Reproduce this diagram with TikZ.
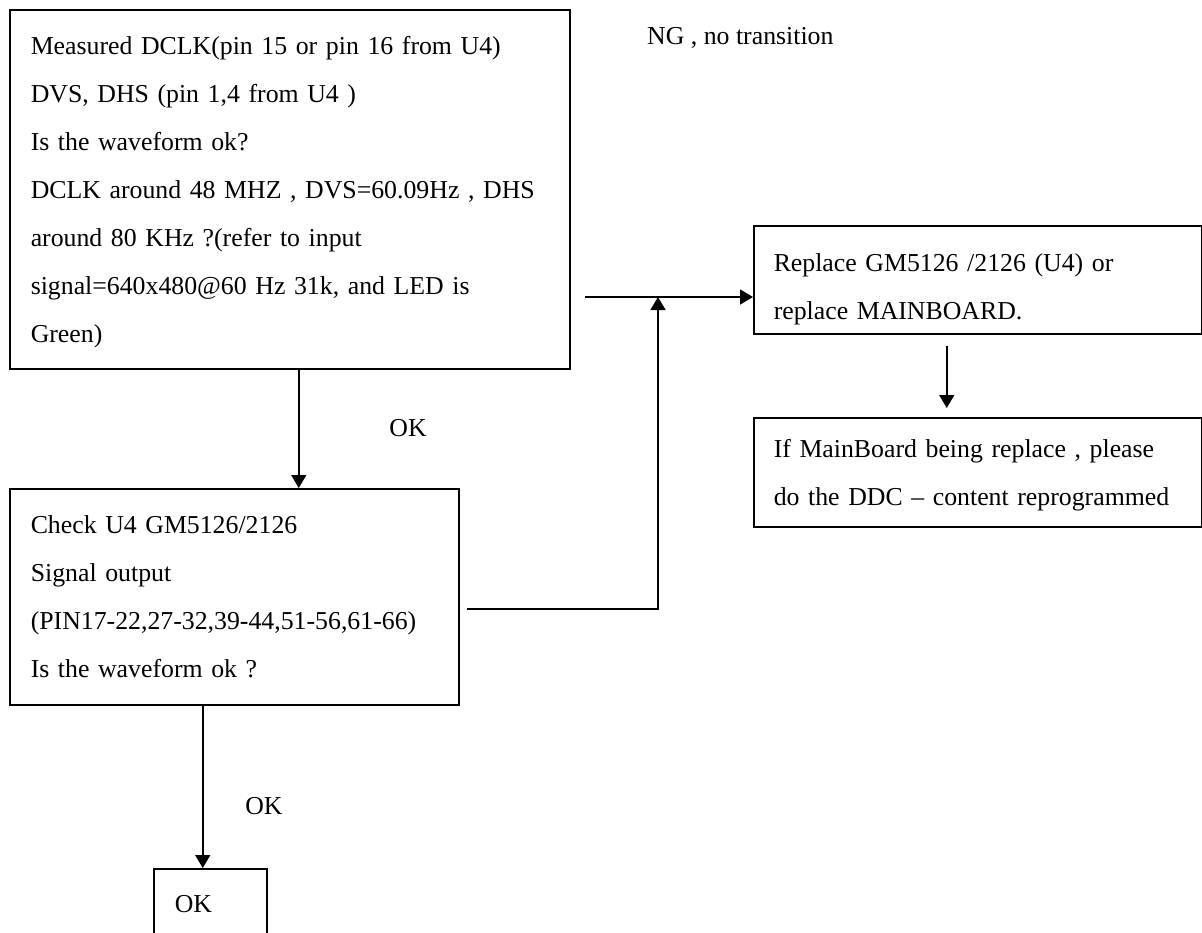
\documentclass[tikz,border=0pt]{standalone}
\usepackage{fontspec}
\setmainfont{Liberation Serif}
\usepackage{xcolor}
\usepackage{tikz}
\usetikzlibrary{arrows.meta, calc}
\definecolor{ink}{HTML}{000000}

\tikzset{
  stepbox/.style={draw=ink, line width=1.5pt, rectangle, anchor=north west, align=left,
                  inner xsep=21pt, inner ysep=0pt, font=\fontsize{25.8}{48}\selectfont},
  flow/.style={draw=ink, line width=1.5pt, -{Triangle[length=13pt, width=15pt]}},
  lbl/.style={inner sep=0pt, font=\fontsize{25.8}{32}\selectfont}
}

\begin{document}
\begin{tikzpicture}[x=1pt, y=-1pt]
  \useasboundingbox (0,0) rectangle (1202,932);
  % boxes of the check flow
  \node[stepbox, text width=518pt, minimum height=359pt] (meas) at (9,9)
    {\rule{0pt}{24pt}Measured DCLK(pin 15 or pin 16 from U4)\\
     DVS, DHS (pin 1,4 from U4 )\\
     Is the waveform ok?\\
     DCLK around 48 MHZ , DVS=60.09Hz , DHS\\
     around 80 KHz ?(refer to input\\
     signal=640x480@60 Hz 31k, and LED is\\
     Green)};
  \node[stepbox, text width=407pt, minimum height=216pt] (chk) at (9,488)
    {Check U4 GM5126/2126\\
     Signal output\\
     (PIN17-22,27-32,39-44,51-56,61-66)\\
     Is the waveform ok ?};
  \node[stepbox, inner xsep=20pt, text width=408pt, minimum height=108pt] (rep) at (753,225)
    {\rule{0pt}{36pt}Replace GM5126 /2126 (U4) or\\
     replace MAINBOARD.};
  \node[stepbox, inner xsep=20pt, text width=408pt, minimum height=109pt] (rst) at (753,417)
    {\rule{0pt}{24pt}If MainBoard being replace , please\\
     do the DDC -- content reprogrammed};
  \node[stepbox, text width=71pt, minimum height=70pt] (okbox) at (153,868) {OK};

  \node[lbl, anchor=west] (ng) at (647,38) {NG , no transition};
  \node[lbl] (ok1) at (408,428) {OK};
  \node[lbl] (ok2) at (264,806) {OK};

  % connectors
  \coordinate (ngin) at (585,297);
  \coordinate (join) at (658,297);
  \coordinate (chkout) at ($(chk.east)+(7,12)$);
  \draw[flow] ([xshift=9pt]meas.south) -- ([xshift=9pt]meas.south |- chk.north);
  \draw[flow] ([xshift=-31.5pt]chk.south) -- ([xshift=-31.5pt]chk.south |- okbox.north);
  \draw[flow] (chkout) -| (join);
  \draw[flow] (ngin) -- (ngin -| rep.west);
  \draw[flow] ([xshift=-31pt, yshift=-11pt]rep.south) -- ([xshift=-31pt, yshift=9pt]rst.north);
\end{tikzpicture}
\end{document}
